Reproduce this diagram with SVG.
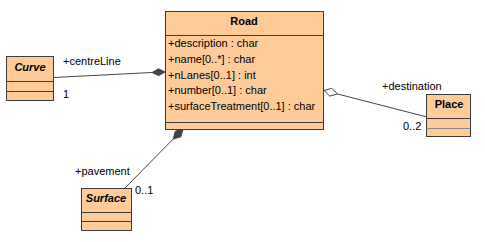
<svg xmlns="http://www.w3.org/2000/svg" width="485" height="242" viewBox="0 0 485 242">
  <style>
    .box { fill: #FFCC99; stroke: #3c3c3c; stroke-width: 1; }
    .sep { stroke: #3c3c3c; stroke-width: 1; }
    .sep-light { stroke: #8a8a8a; stroke-width: 1; }
    .name { font-family: "Liberation Sans", Arial, sans-serif; font-size: 11px; font-weight: bold; fill: #000; text-anchor: middle; }
    .abstract { font-style: italic; }
    .attr { font-family: "Liberation Sans", Arial, sans-serif; font-size: 11px; fill: #000; }
    .lbl { font-family: "Liberation Sans", Arial, sans-serif; font-size: 11px; fill: #000; }
    .edge { fill: none; stroke: #444; stroke-width: 1; }
    .comp { fill: #444; stroke: #444; stroke-width: 1; }
    .aggr { fill: #fff; stroke: #444; stroke-width: 1; }
  </style>
  <rect width="485" height="242" fill="#fff"/>

  <!-- associations -->
  <g id="connectors">
    <!-- Curve : centreLine (composition) -->
    <line class="edge" x1="53.5" y1="77.5" x2="152" y2="72.5"/>
    <polygon class="comp" points="165,72 158.5,68.8 152,72.5 158.6,75.6"/>
    <text class="lbl" x="63" y="65">+centreLine</text>
    <text class="lbl" x="63" y="98">1</text>

    <!-- Place : destination (aggregation) -->
    <line class="edge" x1="337.6" y1="94" x2="427" y2="117"/>
    <polygon class="aggr" points="324,90.5 331.8,88.3 337.6,94 329.8,96.1"/>
    <text class="lbl" x="382" y="90">+destination</text>
    <text class="lbl" x="403" y="130">0..2</text>

    <!-- Surface : pavement (composition) -->
    <line class="edge" x1="173.2" y1="139" x2="125" y2="188"/>
    <polygon class="comp" points="183,129 180.9,136.8 173.2,139 175.3,131.2"/>
    <text class="lbl" x="75" y="175">+pavement</text>
    <text class="lbl" x="135" y="194">0..1</text>
  </g>

  <g id="Road">
    <rect class="box" x="165.5" y="11.5" width="158" height="118"/>
    <line class="sep" x1="165.5" y1="35.5" x2="323.5" y2="35.5"/>
    <line class="sep" x1="165.5" y1="122.5" x2="323.5" y2="122.5"/>
    <text class="name" x="244" y="25">Road</text>
    <text class="attr" x="168" y="47">+description : char</text>
    <text class="attr" x="168" y="63">+name[0..*] : char</text>
    <text class="attr" x="168" y="78.5">+nLanes[0..1] : int</text>
    <text class="attr" x="168" y="94">+number[0..1] : char</text>
    <text class="attr" x="168" y="110">+surfaceTreatment[0..1] : char</text>
  </g>

  <g id="Curve">
    <rect class="box" x="6.5" y="56.5" width="47" height="44"/>
    <line class="sep" x1="6.5" y1="81.5" x2="53.5" y2="81.5"/>
    <line class="sep" x1="6.5" y1="91.5" x2="53.5" y2="91.5"/>
    <text class="name abstract" x="30" y="71">Curve</text>
  </g>

  <g id="Place">
    <rect class="box" x="426.5" y="94.5" width="44" height="42"/>
    <line class="sep" x1="426.5" y1="118.5" x2="470.5" y2="118.5"/>
    <line class="sep-light" x1="426.5" y1="128.5" x2="470.5" y2="128.5"/>
    <text class="name" x="449" y="108">Place</text>
  </g>

  <g id="Surface">
    <rect class="box" x="81.5" y="188.5" width="50" height="42"/>
    <line class="sep" x1="81.5" y1="212.5" x2="131.5" y2="212.5"/>
    <line class="sep" x1="81.5" y1="221.5" x2="131.5" y2="221.5"/>
    <text class="name abstract" x="106" y="202">Surface</text>
  </g>
</svg>
